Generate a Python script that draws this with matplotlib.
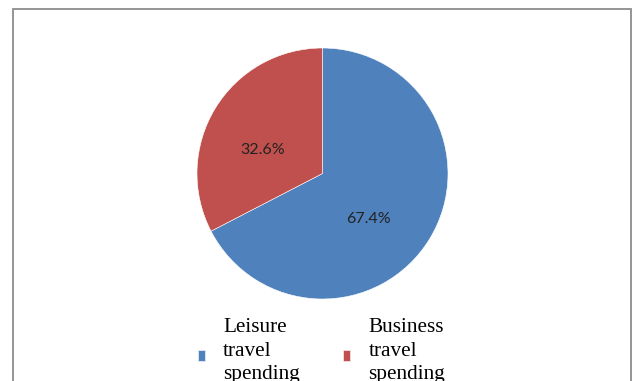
import matplotlib.pyplot as plt
from matplotlib.patches import Rectangle
from matplotlib.legend_handler import HandlerPatch

# Travel spending split
labels = ['Leisure\ntravel\nspending', 'Business\ntravel\nspending']
shares = [67.4, 32.6]
colors = ['#4F81BD', '#C0504D']

W, H = 636, 381
fig = plt.figure(figsize=(W / 100, H / 100), dpi=100)
fig.patch.set_facecolor('white')

# chart border (open at the bottom, clipped by the figure edge)
fig.patches.append(Rectangle((13 / W, -0.2), 618 / W, 1.2 - 8.5 / H,
                             transform=fig.transFigure, fill=False,
                             edgecolor='#8c8c8c', linewidth=1.3))

# pie area, square in pixels
cx, cy, r = 322.5, 173.5, 125.5
ax = fig.add_axes([(cx - r) / W, (H - cy - r) / H, 2 * r / W, 2 * r / H])
wedges, texts, autotexts = ax.pie(
    shares, colors=colors, startangle=90, counterclock=False,
    autopct='%.1f%%', pctdistance=0.52,
    wedgeprops=dict(edgecolor='white', linewidth=0.4),
    textprops=dict(family='Lato', fontsize=11.5, color='#222222'))
# label spots inside each slice
for t, pos in zip(autotexts, [(0.37, -0.36), (-0.48, 0.19)]):
    t.set_position(pos)
ax.set_xlim(-1, 1)
ax.set_ylim(-1, 1)
ax.axis('off')


def low_square(legend, orig_handle, xdescent, ydescent, width, height, fontsize):
    # small swatch sitting a little below the middle text line
    return Rectangle((-xdescent, -ydescent - 4.0), width, height)


leg = fig.legend(wedges, labels, loc='upper left',
                 bbox_to_anchor=(187 / W, 1 - 307 / H), ncol=2,
                 frameon=False, handlelength=0.34, handleheight=0.42,
                 handletextpad=0.85, columnspacing=2.05, borderpad=0,
                 handler_map={w: HandlerPatch(patch_func=low_square) for w in wedges},
                 prop=dict(family='Liberation Serif', size=15.3))
for t in leg.get_texts():
    t.set_linespacing(1.35)

fig.savefig('out.png', dpi=100)
